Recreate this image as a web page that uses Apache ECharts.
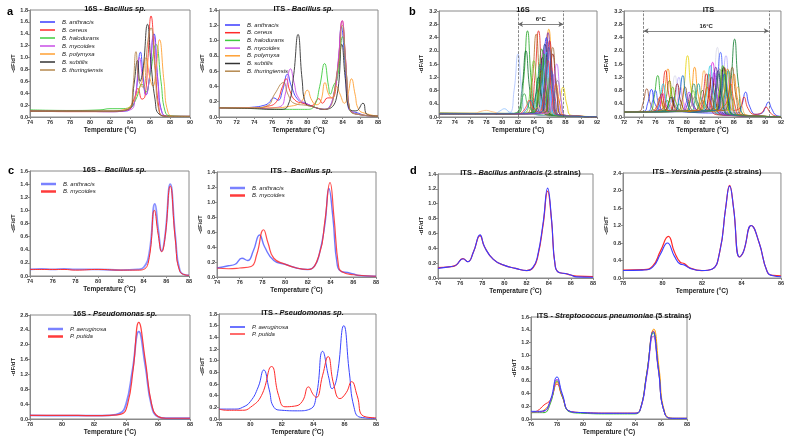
<!DOCTYPE html>
<html><head><meta charset="utf-8">
<script src="https://cdn.jsdelivr.net/npm/echarts@6/dist/echarts.min.js"></script>
<style>html,body{margin:0;padding:0;background:#fff}#c{width:787px;height:437px}</style>
</head><body><div id="c"></div>
<script>
// ---------- Panel a: 16S Bacillus sp. ----------
const aNames = ['B. anthracis','B. cereus','B. halodurans','B. mycoides','B. polymyxa','B. subtilis','B. thuringiensis'];
const a16Anthracis = [[74,.1],[78,.1],[82,.09],[83.5,.1],[84,.13],[84.5,.3],[85.05,1.09],[85.3,.7],[85.6,.37],[85.9,.6],[86.4,1.4],[86.8,.6],[87.2,.08],[88,.01],[90,.01]];
const a16Cereus = [[74,.1],[78,.09],[82,.09],[83.8,.12],[84.4,.3],[84.8,.48],[85.2,.3],[85.5,.35],[85.8,1.0],[86.1,1.7],[86.5,.9],[86.9,.15],[87.3,.02],[90,.01]];
const a16Halodurans = [[74,.12],[78,.11],[81,.12],[82,.14],[83,.14],[84,.16],[84.6,.3],[85.2,.55],[85.6,.42],[86.0,.7],[86.6,1.22],[87.1,.6],[87.5,.1],[88,.02],[90,.01]];
const a16Mycoides = [[74,.1],[78,.1],[82,.09],[84,.12],[84.5,.3],[84.95,1.0],[85.3,.6],[85.6,.37],[85.9,.6],[86.35,1.37],[86.8,.55],[87.2,.07],[88,.01],[90,.01]];
const a16Polymyxa = [[74,.1],[78,.1],[82,.1],[83.5,.13],[84.2,.22],[84.7,.4],[85.2,.6],[85.6,1.0],[86.0,.65],[86.3,.52],[86.6,.8],[86.95,1.3],[87.4,.6],[87.8,.08],[88.5,.01],[90,.01]];
const a16Subtilis = [[74,.1],[78,.1],[82,.1],[84,.15],[84.4,.55],[84.75,.95],[85.0,.6],[85.3,.8],[85.75,1.56],[86.1,.9],[86.5,.3],[86.9,.05],[88,.01],[90,.01]];
const a16Thuringiensis = [[74,.1],[78,.1],[82,.1],[84,.15],[84.3,.5],[84.6,1.1],[84.9,.6],[85.3,.5],[85.8,1.3],[86.1,1.5],[86.5,.8],[86.9,.1],[88,.01],[90,.01]];

// ---------- Panel a: ITS Bacillus sp. ----------
const aItsAnthracis = [[70,.12],[72,.12],[74,.13],[75,.15],[75.6,.18],[76.2,.25],[76.7,.22],[77.2,.35],[77.75,.56],[78.2,.4],[79,.22],[80,.17],[81,.12],[82,.1],[82.6,.15],[83,.3],[83.5,.7],[83.85,1.18],[84.2,.8],[84.6,.15],[85,.07],[85.5,.06],[86,.04],[86.5,.02],[88,.01]];
const aItsCereus = [[70,.12],[74,.12],[75.5,.14],[76.5,.2],[77.2,.4],[77.6,.5],[78,.35],[78.6,.22],[79.5,.18],[80.5,.15],[81.3,.24],[81.7,.18],[82.3,.25],[82.8,.25],[83.4,.6],[83.95,1.26],[84.3,.8],[84.7,.15],[85,.07],[86,.03],[88,.01]];
const aItsHalodurans = [[70,.12],[74,.11],[78,.1],[80,.1],[80.8,.15],[81.4,.4],[81.95,.7],[82.4,.4],[82.6,.3],[83,.42],[83.4,.5],[84,1.05],[84.4,.6],[84.8,.1],[85.5,.04],[88,.01]];
const aItsMycoides = [[70,.12],[74,.12],[75,.11],[76,.12],[77,.14],[77.5,.3],[78.1,.63],[78.5,.45],[79,.25],[80,.17],[81,.12],[82,.1],[83,.3],[83.5,.75],[83.95,1.26],[84.3,.8],[84.7,.15],[85,.07],[86,.03],[88,.01]];
const aItsPolymyxa = [[70,.12],[74,.12],[76,.12],[78,.14],[79.3,.2],[80,.35],[80.5,.22],[81,.16],[81.5,.2],[82,.45],[82.4,.3],[82.8,.25],[83.3,.4],[83.7,.3],[84.2,.18],[84.6,.3],[85,.5],[85.4,.3],[85.8,.1],[86.5,.05],[88,.01]];
const aItsSubtilis = [[70,.12],[74,.11],[76,.1],[77,.1],[77.8,.15],[78.4,.5],[78.95,1.08],[79.4,.5],[79.8,.18],[80.5,.14],[82,.1],[83.3,.25],[83.9,.95],[84.3,.5],[84.8,.1],[85.5,.08],[86.3,.18],[86.8,.03],[88,.01]];
const aItsThuringiensis = [[70,.12],[74,.12],[75.5,.15],[76.3,.3],[77.3,.45],[77.8,.3],[78.5,.18],[80,.15],[82,.1],[83.4,.6],[83.95,1.2],[84.4,.6],[84.8,.1],[86,.03],[88,.01]];

// ---------- Panel b: 16S, many species ----------
const b16Curves = [
 [[72,.12],[80,.1],[82.1,.12],[82.7,1.1],[83.2,2.6],[83.7,1.05],[84.3,.08],[92,.01]],
 [[72,.1],[80,.1],[81.9,.12],[82.5,.85],[83.0,2.0],[83.5,.8],[84.1,.08],[92,.01]],
 [[72,.1],[81,.1],[83.5,.12],[84.1,1.1],[84.6,2.6],[85.1,1.05],[85.7,.08],[92,.01]],
 [[72,.1],[81,.1],[83.2,.12],[83.8,1.05],[84.3,2.5],[84.8,1.0],[85.4,.08],[92,.01]],
 [[72,.1],[82,.1],[84.8,.13],[85.4,1.1],[85.9,2.65],[86.4,1.05],[87.0,.08],[92,.01]],
 [[72,.1],[82,.1],[84.7,.13],[85.3,1.05],[85.8,2.55],[86.3,1.0],[86.9,.08],[92,.01]],
 [[72,.1],[82,.1],[84.5,.13],[85.1,1.0],[85.6,2.4],[86.1,.95],[86.7,.08],[92,.01]],
 [[72,.1],[82,.1],[84.3,.13],[84.9,.9],[85.4,2.2],[85.9,.9],[86.5,.08],[92,.01]],
 [[72,.11],[82,.1],[84.1,.13],[84.7,.85],[85.2,2.0],[85.7,.8],[86.3,.08],[92,.01]],
 [[72,.1],[79,.1],[80.9,.12],[81.5,.8],[82.0,1.9],[82.5,.75],[83.1,.1],[92,.01]],
 [[72,.1],[82,.1],[85.9,.12],[86.5,.47],[87.0,1.1],[87.5,.45],[88.1,.05],[92,.01]],
 [[72,.1],[82,.1],[86.6,.12],[87.2,.4],[87.7,.9],[88.2,.36],[88.8,.05],[92,.01]],
 [[72,.1],[82,.1],[84.0,.12],[84.6,.75],[85.1,1.8],[85.6,.72],[86.2,.07],[92,.01]],
 [[72,.1],[82,.1],[83.7,.12],[84.3,.68],[84.8,1.6],[85.3,.64],[85.9,.07],[92,.01]],
 [[72,.1],[82,.1],[85.1,.12],[85.7,.64],[86.2,1.5],[86.7,.6],[87.3,.06],[92,.01]],
 [[72,.1],[82,.1],[83.9,.12],[84.5,.6],[85.0,1.4],[85.5,.56],[86.1,.06],[92,.01]],
 [[72,.1],[82,.1],[82.9,.12],[83.5,.72],[84.0,1.7],[84.5,.75],[85.0,.3],[85.5,.52],[86.0,1.2],[86.5,.48],[87.1,.06],[92,.01]],
 [[72,.1],[82,.1],[85.3,.12],[85.9,.8],[86.4,1.9],[86.9,.76],[87.5,.06],[92,.01]],
 [[72,.1],[82,.1],[85.5,.12],[86.1,.55],[86.6,1.3],[87.1,.52],[87.7,.05],[92,.01]],
 [[72,.1],[82,.1],[84.5,.12],[85.1,.82],[85.6,1.95],[86.1,.78],[86.7,.07],[92,.01]],
 [[72,.12],[82,.11],[83.9,.13],[84.5,.86],[85.0,2.05],[85.5,.82],[86.1,.07],[92,.01]],
 [[72,.1],[82,.1],[84.9,.12],[85.5,.97],[86.0,2.3],[86.5,.92],[87.1,.07],[92,.01]],
 [[72,.1],[82,.1],[85.7,.12],[86.3,.42],[86.8,1.0],[87.3,.4],[87.9,.05],[92,.01]],
 [[72,.1],[82,.1],[82.6,.12],[83.1,.25],[83.6,.5],[84.1,.25],[84.8,.15],[85.7,.6],[86.2,1.4],[86.7,.56],[87.3,.05],[92,.01]],
 [[72,.12],[76.5,.12],[77.3,.17],[78,.2],[78.7,.16],[80,.11],[83,.1],[84,.2],[84.5,.3],[85,.18],[85.8,.05],[92,.01]],
 [[72,.1],[79,.1],[79.7,.18],[80.3,.25],[80.9,.15],[82,.1],[84.4,.12],[85.0,.68],[85.5,1.6],[86.0,.64],[86.6,.06],[92,.01]],
 [[72,.1],[82,.1],[83.5,.12],[84.1,.5],[84.6,1.2],[85.1,.48],[85.7,.06],[92,.01]],
 [[72,.1],[82,.1],[85.3,.12],[85.9,.88],[86.4,2.1],[86.9,.84],[87.5,.06],[92,.01]],
 [[72,.1],[82,.1],[85.8,.12],[86.4,.68],[86.9,1.6],[87.4,.64],[88.0,.05],[92,.01]],
 [[72,.1],[82,.1],[82.5,.14],[83.0,.3],[83.4,.5],[83.9,.28],[84.6,.15],[85.3,.72],[85.8,1.7],[86.3,.68],[86.9,.06],[92,.01]],
 [[72,.1],[81,.1],[81.8,.13],[82.3,.35],[82.8,.7],[83.3,.33],[84.0,.18],[84.8,.8],[85.3,1.9],[85.8,.76],[86.4,.06],[92,.01]],
 [[72,.1],[82,.1],[84.8,.12],[85.4,.88],[85.9,2.1],[86.4,.84],[87.0,.06],[92,.01]]
];
const b16Span = [82.0, 87.75];
const b16ArrowY = 2.8;

// ---------- Panel b: ITS, many species ----------
const bItsCurves = [
 [[72,.15],[73.9,.17],[74.4,.4],[74.9,.85],[75.4,.38],[76.0,.2],[77.0,.26],[77.5,.5],[78.0,.25],[79,.18],[82,.15],[83.7,.3],[84.2,.6],[84.7,.28],[85.5,.08],[92,.01]],
 [[72,.15],[74.5,.17],[75.0,.4],[75.5,.83],[76.0,.37],[76.8,.2],[77.7,.3],[78.2,.6],[78.7,.28],[80,.15],[84,.12],[86.5,.12],[87.0,.35],[87.5,.75],[88.0,.33],[88.8,.08],[89.6,.12],[90.0,.28],[90.4,.45],[90.8,.26],[91.4,.05],[92,.02]],
 [[72,.14],[75.3,.17],[75.8,.55],[76.3,1.25],[76.8,.5],[77.5,.2],[78.5,.22],[79.0,.4],[79.5,.2],[81,.15],[82.5,.18],[83.0,.45],[83.5,1.0],[84.0,.42],[84.8,.08],[92,.01]],
 [[72,.15],[76.6,.18],[77.1,.64],[77.6,1.45],[78.1,.6],[78.8,.2],[79.8,.2],[80.5,.65],[81.0,1.5],[81.5,.62],[82.2,.2],[84.5,.2],[85.5,.56],[86.0,1.3],[86.5,.52],[87.3,.06],[92,.01]],
 [[72,.15],[76.3,.18],[76.8,.62],[77.3,1.4],[77.8,.58],[78.5,.2],[80,.18],[83.8,.2],[84.3,.65],[84.8,1.5],[85.3,.6],[86.0,.2],[86.8,.28],[87.3,.6],[87.8,.26],[88.6,.08],[89.5,.12],[90.1,.3],[90.6,.14],[91.3,.03],[92,.01]],
 [[72,.15],[77.5,.18],[78.0,.55],[78.5,1.25],[79.0,.5],[79.8,.2],[82.9,.2],[83.4,.9],[83.9,2.1],[84.4,.85],[85.2,.08],[92,.01]],
 [[72,.15],[79.1,.18],[79.6,.8],[80.1,1.85],[80.6,.75],[81.3,.2],[83.5,.2],[84.0,.55],[84.5,1.2],[85.0,.5],[85.8,.07],[92,.01]],
 [[72,.15],[76.0,.18],[76.5,.32],[77.0,.7],[77.5,.3],[78.3,.18],[82.3,.2],[82.8,.72],[83.3,1.65],[83.8,.68],[84.6,.08],[92,.01]],
 [[72,.15],[78.0,.18],[78.5,.53],[79.0,1.2],[79.5,.5],[80.2,.2],[84.0,.2],[84.5,.8],[85.0,1.85],[85.5,.75],[86.3,.07],[92,.01]],
 [[72,.15],[81.0,.18],[81.5,.37],[82.0,.8],[82.5,.35],[83.3,.2],[85.1,.2],[85.6,1.0],[86.1,2.35],[86.6,.95],[87.4,.06],[92,.01]],
 [[72,.15],[75.0,.17],[75.5,.37],[76.0,.8],[76.5,.35],[77.3,.17],[83.3,.2],[83.8,.85],[84.3,1.95],[84.8,.8],[85.6,.07],[92,.01]],
 [[72,.15],[77.0,.17],[77.5,.3],[78.0,.6],[78.5,.28],[79.3,.17],[83.7,.2],[84.2,.65],[84.7,1.5],[85.2,.6],[86.0,.07],[92,.01]],
 [[72,.15],[79.5,.17],[80.0,.33],[80.5,.7],[81.0,.3],[81.8,.18],[82.7,.2],[83.2,.65],[83.7,1.5],[84.2,.6],[85.0,.07],[92,.01]],
 [[72,.15],[80,.16],[83.0,.2],[83.5,.6],[84.0,1.4],[84.5,.56],[85.3,.07],[92,.01]],
 [[72,.15],[76.8,.18],[77.3,.5],[77.8,1.1],[78.3,.46],[79.1,.18],[81.8,.2],[82.3,.57],[82.8,1.3],[83.3,.52],[84.1,.07],[92,.01]],
 [[72,.15],[78.2,.18],[78.7,.42],[79.2,.9],[79.7,.38],[80.5,.18],[84.5,.2],[85.0,.52],[85.5,1.2],[86.0,.48],[86.8,.06],[92,.01]],
 [[72,.15],[80.5,.18],[81.0,.45],[81.5,1.0],[82.0,.42],[82.8,.2],[84.3,.2],[84.8,.6],[85.3,1.4],[85.8,.56],[86.6,.06],[92,.01]],
 [[72,.15],[77.8,.18],[78.3,.45],[78.8,1.0],[79.3,.42],[80.1,.18],[82.2,.2],[82.7,.52],[83.2,1.2],[83.7,.48],[84.5,.07],[92,.01]],
 [[72,.15],[79.8,.18],[80.3,.37],[80.8,.8],[81.3,.35],[82.1,.18],[83.9,.2],[84.4,.58],[84.9,1.35],[85.4,.54],[86.2,.06],[92,.01]],
 [[72,.15],[81.2,.2],[81.7,.6],[82.2,1.4],[82.7,.56],[83.5,.2],[85.5,.2],[86.0,.42],[86.5,.9],[87.0,.38],[87.8,.05],[92,.01]],
 [[72,.15],[76.0,.18],[76.5,.45],[77.0,1.0],[77.5,.42],[78.3,.18],[82.0,.2],[82.5,.67],[83.0,1.55],[83.5,.62],[84.3,.07],[92,.01]],
 [[72,.15],[78.8,.18],[79.3,.42],[79.8,.9],[80.3,.38],[81.1,.18],[84.8,.2],[85.3,.65],[85.8,1.5],[86.3,.6],[87.1,.06],[92,.01]],
 [[72,.15],[80.0,.18],[80.5,.3],[81.0,.6],[81.5,.28],[82.3,.18],[83.2,.2],[83.7,.63],[84.2,1.45],[84.7,.58],[85.5,.07],[92,.01]],
 [[72,.15],[75.8,.17],[76.3,.33],[76.8,.7],[77.3,.3],[78.1,.17],[81.5,.2],[82.0,.57],[82.5,1.3],[83.0,.52],[83.8,.07],[92,.01]],
 [[72,.15],[77.2,.18],[77.7,.42],[78.2,.9],[78.7,.38],[79.5,.18],[83.6,.2],[84.1,.67],[84.6,1.55],[85.1,.62],[85.9,.07],[92,.01]],
 [[72,.15],[79.3,.18],[79.8,.35],[80.3,.75],[80.8,.33],[81.6,.18],[82.5,.2],[83.0,.58],[83.5,1.35],[84.0,.54],[84.8,.07],[92,.01]],
 [[72,.15],[81.0,.18],[81.5,.28],[82.0,.5],[82.5,.26],[83.3,.18],[84.2,.2],[84.7,.63],[85.2,1.45],[85.7,.58],[86.5,.06],[92,.01]],
 [[72,.15],[78.5,.18],[79.0,.55],[79.5,1.25],[80.0,.5],[80.8,.18],[83.8,.2],[84.3,.57],[84.8,1.3],[85.3,.52],[86.1,.06],[92,.01]],
 [[72,.15],[75.6,.17],[76.1,.3],[76.6,.6],[77.1,.28],[78,.18],[81.6,.2],[82.1,.42],[82.6,.9],[83.1,.38],[84.0,.2],[84.6,.3],[85.1,.45],[85.6,1.0],[86.1,.4],[86.9,.05],[92,.01]],
 [[72,.15],[79.9,.18],[80.4,.45],[80.9,1.0],[81.4,.42],[82.2,.18],[83.1,.2],[83.6,.57],[84.1,1.3],[84.6,.52],[85.4,.07],[92,.01]]
];
const bItsSpan = [74.5, 90.45];
const bItsArrowY = 2.6;

// ---------- Panel c ----------
const cNamesB = ['B. anthracis','B. mycoides'];
const cNamesP = ['P. aeruginosa','P. putida'];
const c16Anthracis = [[74,.1],[75,.11],[76,.1],[77,.11],[78,.1],[80,.1],[82,.09],[83.5,.1],[84,.13],[84.5,.35],[85.0,1.1],[85.3,.7],[85.6,.38],[85.9,.62],[86.35,1.4],[86.8,.6],[87.2,.08],[88,.01]];
const c16Mycoides = [[74,.1],[75,.1],[76,.1],[77,.1],[78,.09],[80,.1],[82,.09],[83.5,.09],[84,.1],[84.5,.28],[84.95,1.0],[85.3,.62],[85.6,.37],[85.9,.6],[86.35,1.37],[86.8,.55],[87.2,.07],[88,.01]];
const cItsAnthracis = [[74,.12],[75,.15],[75.6,.17],[76.2,.25],[76.7,.22],[77.2,.35],[77.75,.56],[78.2,.4],[79,.22],[80,.17],[81,.12],[82,.1],[82.6,.15],[83,.3],[83.5,.7],[83.85,1.18],[84.2,.8],[84.6,.15],[85,.07],[85.5,.06],[86,.04],[86.5,.02],[88,.01]];
const cItsMycoides = [[74,.12],[75,.11],[76,.12],[77,.14],[77.5,.3],[78.1,.63],[78.5,.45],[79,.25],[80,.17],[81,.12],[82,.1],[83,.3],[83.5,.75],[83.95,1.26],[84.3,.8],[84.7,.15],[85,.07],[86,.03],[88,.01]];
const c16Aeruginosa = [[78,.1],[80,.09],[82,.09],[83,.1],[83.6,.15],[84.0,.4],[84.4,1.3],[84.8,2.35],[85.2,1.45],[85.6,.35],[86.0,.06],[86.5,.02],[88,.02]];
const c16Putida = [[78,.1],[80,.1],[82,.09],[83,.1],[83.7,.13],[84.1,.4],[84.45,1.35],[84.8,2.6],[85.2,1.6],[85.6,.4],[86.0,.07],[86.5,.02],[88,.02]];
const cItsAeruginosa = [[78,.17],[79,.17],[79.5,.2],[80,.3],[80.5,.55],[80.85,.84],[81.2,.5],[81.5,.2],[82,.15],[83,.14],[83.8,.17],[84.2,.4],[84.6,1.16],[85,.7],[85.2,.52],[85.5,.7],[85.95,1.6],[86.3,.8],[86.6,.2],[87,.03],[88,.01]];
const cItsPutida = [[78,.17],[78.5,.15],[79.5,.15],[80,.2],[80.7,.4],[81.35,.9],[81.8,.4],[82.2,.21],[82.8,.22],[83.3,.3],[83.7,.55],[84.0,.42],[84.2,.37],[84.6,.75],[84.95,1.07],[85.3,.6],[85.7,.35],[86.1,.45],[86.45,.64],[86.8,.4],[87.2,.05],[88,.02]];

// ---------- Panel d ----------
const dBaStrain1 = [[74,.13],[75,.15],[75.6,.17],[76.25,.26],[76.7,.22],[77.2,.35],[77.8,.58],[78.2,.42],[79,.25],[80,.17],[81,.13],[82,.1],[82.6,.15],[83,.3],[83.5,.75],[83.9,1.21],[84.25,.8],[84.6,.15],[85,.07],[85.5,.06],[86,.04],[86.5,.015],[88,.01]];
const dBaStrain2 = [[74,.14],[75,.15],[75.6,.17],[76.25,.26],[76.7,.22],[77.2,.35],[77.8,.57],[78.2,.42],[79,.25],[80,.17],[81,.13],[82,.1],[82.6,.14],[83,.28],[83.5,.72],[83.9,1.17],[84.25,.78],[84.6,.15],[85,.07],[85.5,.06],[86,.04],[86.5,.025],[88,.02]];
const dYpStrain1 = [[78,.17],[79,.18],[79.5,.25],[79.9,.55],[80.25,.8],[80.6,.5],[80.9,.32],[81.1,.3],[81.4,.22],[82,.17],[82.5,.2],[82.9,.6],[83.2,1.6],[83.4,2.1],[83.6,1.6],[83.9,.48],[84.1,.6],[84.5,1.2],[84.9,.8],[85.3,.15],[85.6,.05],[86,.03]];
const dYpStrain2 = [[78,.18],[79,.19],[79.5,.27],[79.9,.62],[80.3,.95],[80.6,.6],[80.9,.36],[81.1,.33],[81.4,.23],[82,.17],[82.5,.2],[82.9,.6],[83.2,1.6],[83.4,2.12],[83.6,1.6],[83.9,.48],[84.1,.6],[84.5,1.2],[84.9,.8],[85.3,.15],[85.6,.06],[86,.05]];
const dSpStrains = [
 [[76,.1],[76.5,.13],[77,.22],[77.5,.3],[78,.55],[78.4,.35],[79,.12],[80,.1],[82,.09],[84,.09],[84.4,.15],[84.9,.7],[85.4,1.38],[85.8,.8],[86.3,.08],[87,.01],[88,.01]],
 [[76,.1],[76.5,.11],[77,.14],[77.5,.28],[78,.58],[78.4,.36],[79,.12],[80,.1],[82,.09],[84,.09],[84.4,.15],[84.9,.72],[85.45,1.41],[85.85,.8],[86.3,.1],[87,.01],[88,.01]],
 [[76,.1],[76.5,.1],[77,.1],[77.5,.25],[78,.6],[78.4,.36],[79,.11],[80,.09],[82,.08],[84,.08],[84.4,.14],[84.9,.7],[85.4,1.35],[85.8,.78],[86.3,.08],[87,.01],[88,.01]],
 [[76,.11],[76.5,.11],[77,.12],[77.5,.28],[78,.62],[78.4,.38],[79,.12],[80,.1],[82,.09],[84,.09],[84.4,.14],[84.9,.66],[85.4,1.3],[85.8,.76],[86.3,.08],[87,.01],[88,.01]],
 [[76,.12],[76.5,.12],[77,.13],[77.5,.3],[78,.66],[78.4,.4],[79,.12],[80,.1],[82,.09],[84,.09],[84.4,.15],[84.9,.7],[85.4,1.37],[85.8,.78],[86.3,.08],[87,.01],[88,.01]]
];

// ---------- Build chart ----------
const FONT = 'Liberation Sans, Arial, sans-serif';
const aColors = ['#3b3bff','#ff2a2a','#3fcc3f','#c94ee6','#ffa033','#333333','#b5884e'];
const b16Colors = ['#1fa31f','#0b6b2b','#e8211b','#b5651d','#ff9a00','#7b1fa2','#1f2fff','#1a237e','#e91ee9','#a9c0ff','#8c8c8c','#e8d000','#111111','#009999','#ff7fa8','#8a8a00','#6ccf2f','#8b0000','#9a66ff','#2ec5ff','#2e9e2e','#d61a3c','#ff6a00','#3366cc','#ffb870','#8fc1ff','#00663a','#996633','#c266ff','#ff3a3a','#3cb44b','#3f51b5'];
const bItsColors = ['#a0522d','#1f2fff','#22aa22','#ff8c00','#e8211b','#d8d8e8','#e6d200','#e020e0','#b4a7ff','#0b7a2b','#3a55ff','#111111','#6a1b9a','#1a237e','#808000','#ff8fc8','#009b9b','#8b1010','#7ed321','#ffaa44','#1fc8e0','#8b5a2b','#8c8c8c','#d0203a','#55c400','#9933ff','#c89600','#0066cc','#e65c00','#2e8b57'];
const spColors = ['#ff2a2a','#ff9a00','#2eb82e','#c040e0','#2f3fff'];

const P = [
 {l:30,t:10,w:160,h:107,x:[74,90],y:[0,1.8,0.2],title:'16S - ',it:'Bacillus sp.'},
 {l:219,t:10,w:159,h:107,x:[70,88],y:[0,1.4,0.2],title:'ITS - ',it:'Bacillus sp.'},
 {l:439,t:11,w:158,h:106,x:[72,92],y:[0,3.2,0.4],title:'16S',it:''},
 {l:624,t:11,w:159,h:106,x:[72,92],y:[0,3.2,0.4],title:'ITS',it:''},
 {l:30,t:171,w:159,h:105,x:[74,88],y:[0,1.6,0.2],title:'16S -  ',it:'Bacillus sp.'},
 {l:217,t:172,w:159,h:105,x:[74,88],y:[0,1.4,0.2],title:'ITS -  ',it:'Bacillus sp.'},
 {l:30,t:315,w:160,h:104,x:[78,88],y:[0,2.8,0.4],title:'16S - ',it:'Pseudomonas sp.'},
 {l:219,t:314,w:157,h:105,x:[78,88],y:[0,1.8,0.2],title:'ITS - ',it:'Pseudomonas sp.'},
 {l:438,t:174,w:155,h:104,x:[74,88],y:[0,1.4,0.2],title:'ITS - ',it:'Bacillus anthracis',tail:' (2 strains)'},
 {l:623,t:173,w:158,h:105,x:[78,86],y:[0,2.4,0.4],title:'ITS - ',it:'Yersinia pestis',tail:' (2 strains)'},
 {l:531,t:317,w:156,h:103,x:[76,88],y:[0,1.6,0.2],title:'ITS - ',it:'Streptococcus pneumoniae',tail:' (5 strains)'}
];

const grids=[], xAxes=[], yAxes=[], titles=[], series=[], legends=[];
P.forEach((p,i)=>{
  grids.push({left:p.l,top:p.t,width:p.w,height:p.h,show:true,borderColor:'#8a8a8a',borderWidth:1,containLabel:false});
  xAxes.push({type:'value',gridIndex:i,min:p.x[0],max:p.x[1],interval:2,
    name:'Temperature (°C)',nameLocation:'middle',nameGap:10,
    nameTextStyle:{fontSize:6.5,fontWeight:'bold',color:'#222',fontFamily:FONT},
    axisLine:{show:true,lineStyle:{color:'#8a8a8a',width:1}},
    axisTick:{show:true,length:2,lineStyle:{color:'#8a8a8a'}},
    axisLabel:{fontSize:5.5,fontWeight:'bold',color:'#333',margin:2,fontFamily:FONT},
    splitLine:{show:false}});
  yAxes.push({type:'value',gridIndex:i,min:p.y[0],max:p.y[1],interval:p.y[2],
    name:'-dF/dT',nameLocation:'middle',nameRotate:90,nameGap:(i===2||i===3)?15:14,
    nameTextStyle:{fontSize:6,fontWeight:'bold',color:'#222',fontFamily:FONT},
    axisLine:{show:true,lineStyle:{color:'#8a8a8a',width:1}},
    axisTick:{show:true,length:2,lineStyle:{color:'#8a8a8a'}},
    axisLabel:{fontSize:5.5,fontWeight:'bold',color:'#333',margin:2,fontFamily:FONT,formatter:v=>v.toFixed(1)},
    splitLine:{show:false}});
  const txt = p.it ? p.title + '{i|' + p.it + '}' + (p.tail||'') : p.title;
  titles.push({text:txt,left:p.l+p.w/2,top:p.t-10,textAlign:'center',
    textStyle:{fontSize:7.5,fontWeight:'bold',color:'#111',fontFamily:FONT,
      rich:{i:{fontSize:7.5,fontWeight:'bold',fontStyle:'italic',color:'#111',fontFamily:FONT}}}});
});
[['a',2,1],['b',404,1],['c',3,160],['d',405,160]].forEach(L=>{
  titles.push({text:L[0],left:L[1],top:L[2],textStyle:{fontSize:11,fontWeight:'bold',color:'#000',fontFamily:FONT}});
});

function line(name,data,color,gi,w,op,z){
  return {type:'line',name,data,xAxisIndex:gi,yAxisIndex:gi,symbol:'none',showSymbol:false,
    smooth:0.5,clip:true,silent:true,animation:false,z:z||2,
    lineStyle:{color,width:w,opacity:op==null?1:op},itemStyle:{color}};
}
// a
const a16 = [a16Anthracis,a16Cereus,a16Halodurans,a16Mycoides,a16Polymyxa,a16Subtilis,a16Thuringiensis];
const aIts = [aItsAnthracis,aItsCereus,aItsHalodurans,aItsMycoides,aItsPolymyxa,aItsSubtilis,aItsThuringiensis];
a16.forEach((d,k)=>series.push(line(aNames[k],d,aColors[k],0,0.9)));
aIts.forEach((d,k)=>series.push(line(aNames[k],d,aColors[k],1,0.9)));
// b
b16Curves.forEach((d,k)=>series.push(line('16S-'+k,d,b16Colors[k%b16Colors.length],2,0.8)));
bItsCurves.forEach((d,k)=>series.push(line('ITS-'+k,d,bItsColors[k%bItsColors.length],3,0.8)));
function spanSeries(gi,span,ay,label){
  series.push({type:'line',xAxisIndex:gi,yAxisIndex:gi,data:[],silent:true,animation:false,
    markLine:{silent:true,animation:false,symbol:'none',lineStyle:{type:'dashed',color:'#555',width:0.7},label:{show:false},
      data:[{xAxis:span[0]},{xAxis:span[1]}]}});
  series.push({type:'line',xAxisIndex:gi,yAxisIndex:gi,data:[],silent:true,animation:false,
    markLine:{silent:true,animation:false,symbol:['arrow','arrow'],symbolSize:[4,5],
      lineStyle:{type:'solid',color:'#666',width:0.8},
      label:{show:true,formatter:label,position:'insideMiddleTop',distance:2,fontSize:6,fontWeight:'bold',color:'#222',fontFamily:FONT},
      data:[[{coord:[span[0],ay]},{coord:[span[1],ay]}]]}});
}
spanSeries(2,b16Span,b16ArrowY,'6°C');
spanSeries(3,bItsSpan,bItsArrowY,'16°C');
// c
series.push(line(cNamesB[0],c16Anthracis,'#4a55ff',4,1.8,0.65));
series.push(line(cNamesB[1],c16Mycoides,'#ff2a2a',4,1));
series.push(line(cNamesB[0],cItsAnthracis,'#4a55ff',5,1.4,0.8));
series.push(line(cNamesB[1],cItsMycoides,'#ff2a2a',5,1.2,0.85));
series.push(line(cNamesP[0],c16Aeruginosa,'#4a55ff',6,1.8,0.7));
series.push(line(cNamesP[1],c16Putida,'#ff2a2a',6,1.2,0.9));
series.push(line(cNamesP[0],cItsAeruginosa,'#3a45ff',7,1));
series.push(line(cNamesP[1],cItsPutida,'#ff2a2a',7,1));
// d
series.push(line('s1',dBaStrain2,'#ff2a2a',8,1.2));
series.push(line('s2',dBaStrain1,'#3a3aff',8,1.1));
series.push(line('s1',dYpStrain2,'#ff2a2a',9,1.2));
series.push(line('s2',dYpStrain1,'#3a3aff',9,1.1));
dSpStrains.forEach((d,k)=>series.push(line('sp'+k,d,spColors[k],10,1)));

function legend(names,colors,left,top,iw,ih,gap){
  return {left,top,orient:'vertical',itemWidth:iw,itemHeight:ih,itemGap:gap,icon:'rect',selectedMode:false,
    padding:0,textStyle:{fontSize:6,fontStyle:'italic',color:'#222',fontFamily:FONT,padding:[0,0,0,2]},
    data:names.map((n,k)=>({name:n,icon:'rect',itemStyle:{color:colors[k],opacity:1},lineStyle:{color:colors[k]}}))};
}
legends.push(legend(aNames,aColors,40,19,15,1.5,2));
legends.push(legend(aNames,aColors,225,22,15,1.5,1.7));
legends.push(legend(cNamesB,['#7a82ff','#ff3b3b'],41,181,15,2.5,1.5));
legends.push(legend(cNamesB,['#7a82ff','#ff3b3b'],230,185,15,2.5,1.5));
legends.push(legend(cNamesP,['#7a82ff','#ff3b3b'],48,326,15,2.5,1.5));
legends.push(legend(cNamesP,['#3a45ff','#ff3b3b'],230,324,15,1.5,1));

const chart = echarts.init(document.getElementById('c'),null,{renderer:'canvas'});
chart.setOption({animation:false,backgroundColor:'#fff',textStyle:{fontFamily:FONT},
  title:titles,grid:grids,xAxis:xAxes,yAxis:yAxes,legend:legends,series});
</script></body></html>
